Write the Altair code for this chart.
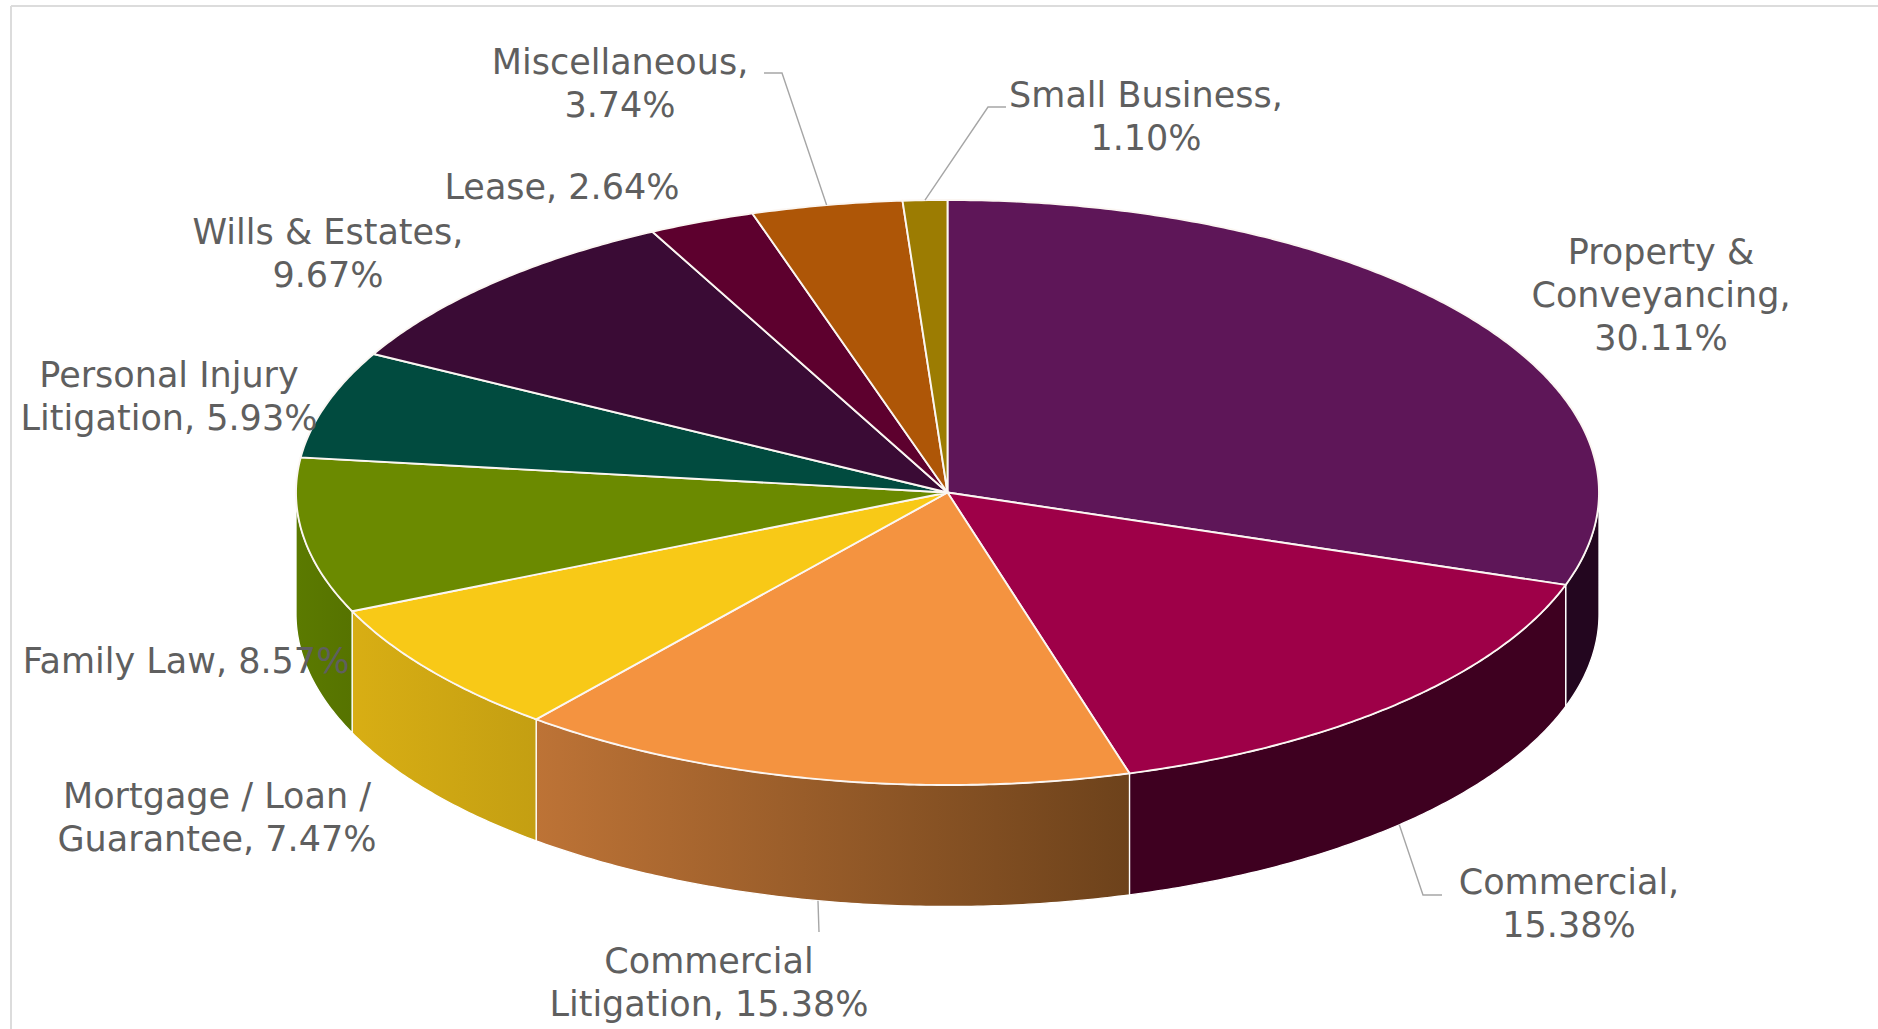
import math
import altair as alt

# Share of matters by practice area, clockwise from twelve o'clock
areas = ["Property & Conveyancing", "Commercial", "Commercial Litigation",
         "Mortgage / Loan / Guarantee", "Family Law", "Personal Injury Litigation",
         "Wills & Estates", "Lease", "Miscellaneous", "Small Business"]
shares = [30.11, 15.38, 15.38, 7.47, 8.57, 5.93, 9.67, 2.64, 3.74, 1.10]
top_colors = ["#5E1658", "#9E0048", "#F49340", "#F8C917", "#6B8A00",
              "#014B3F", "#3A0B35", "#5D002E", "#AE5607", "#9C7C02"]
wrapped_names = ["Property &\nConveyancing,\n", "Commercial,\n", "Commercial\nLitigation, ",
                 "Mortgage / Loan /\nGuarantee, ", "Family Law, ", "Personal Injury\nLitigation, ",
                 "Wills & Estates,\n", "Lease, ", "Miscellaneous,\n", "Small Business,\n"]
# Wall shading (left colour, right colour) for the slices on the near side
wall_shades = {
    0: ("#23061F", "#23061F"),
    1: ("#3E0020", "#3E0020"),
    2: ("#BD7336", "#6D421B"),
    3: ("#D8AE14", "#C49F12"),
    4: ("#5B7A00", "#567300"),
}

# Pie geometry and label placement, in page pixels
W, H = 1878, 1029
CX, CY, RX, RY, DEPTH = 947.5, 492.5, 651.5, 292.5, 121.5
label_x = [1661, 1569, 709, 217, 186, 169, 328, 562, 620, 1146]
first_line_y = [253, 883, 961.5, 796.5, 661.5, 375.5, 232.5, 187.5, 62.5, 96]
leader_elbows = {
    1: [(1423, 895), (1442, 895)],
    2: [(819, 932)],
    8: [(782, 73), (764, 73)],
    9: [(988, 107), (1006, 107)],
}

total = sum(shares)
edges = [0.0]
for s in shares:
    edges.append(edges[-1] + s / total * 360.0)


def rim(deg, drop=0.0):
    a = math.radians(deg)
    return [CX + RX * math.sin(a), CY - RY * math.cos(a) + drop]


def arc(a0, a1, drop=0.0):
    steps = max(2, int(abs(a1 - a0) * 2))
    return [rim(a0 + (a1 - a0) * i / steps, drop) for i in range(steps + 1)]


def feature(ring, **props):
    return {"type": "Feature", "properties": props,
            "geometry": {"type": "Polygon", "coordinates": [ring + [ring[0]]]}}


flat = alt.Projection(type="identity", scale=1, translate=[0, 0])
x_scale = alt.Scale(domain=[0, W], range=[0, W])
y_scale = alt.Scale(domain=[0, H], range=[0, H])

# Side walls: only the arc between 90 and 270 degrees faces the viewer
walls = []
for i, (left, right) in wall_shades.items():
    a0, a1 = edges[i], min(edges[i + 1], 270.0)
    a0 = max(a0, 90.0)
    ring = arc(a0, a1) + arc(a1, a0, DEPTH)
    paint = alt.Gradient(gradient="linear", x1=0, x2=1, y1=0, y2=0,
                         stops=[alt.GradientStop(offset=0, color=left),
                                alt.GradientStop(offset=1, color=right)])
    walls.append(
        alt.Chart(alt.Data(values=[feature(ring, area=areas[i])]))
        .mark_geoshape(fill=paint, stroke="white", strokeWidth=1.3)
        .project(**flat.to_dict())
    )

# Top face of the pie
top_features = [feature([[CX, CY]] + arc(edges[i], edges[i + 1]), area=areas[i], share=shares[i])
                for i in range(len(areas))]
top = (
    alt.Chart(alt.Data(values=top_features))
    .mark_geoshape(stroke="#FBF6F2", strokeWidth=1.9)
    .encode(color=alt.Color("properties.area:N", legend=None,
                            scale=alt.Scale(domain=areas, range=top_colors)))
    .project(**flat.to_dict())
)

# Leader lines start on the lower or upper rim at each slice's mid angle
leader_rows = []
for i, elbows in leader_elbows.items():
    mid = (edges[i] + edges[i + 1]) / 2
    start = rim(mid, DEPTH if 90 < mid < 270 else 0.0)
    for j, (px, py) in enumerate([tuple(start)] + elbows):
        leader_rows.append({"area": areas[i], "step": j, "px": px, "py": py})
leaders = (
    alt.Chart(alt.Data(values=leader_rows))
    .mark_line(color="#A6A6A6", strokeWidth=1.4)
    .encode(x=alt.X("px:Q", scale=x_scale, axis=None),
            y=alt.Y("py:Q", scale=y_scale, axis=None),
            detail="area:N", order="step:Q")
)

# A multi-line text is anchored at the middle of its first line
label_rows = [{"text": f"{wrapped_names[i]}{shares[i]:.2f}%", "px": label_x[i], "py": first_line_y[i]}
              for i in range(len(areas))]
labels = (
    alt.Chart(alt.Data(values=label_rows))
    .mark_text(font="DejaVu Sans", fontSize=35, color="#5F5F5F", align="center",
               baseline="middle", lineBreak="\n", lineHeight=43)
    .encode(x=alt.X("px:Q", scale=x_scale, axis=None),
            y=alt.Y("py:Q", scale=y_scale, axis=None),
            text="text:N")
)

# Thin frame along the top and left of the chart area
frame_top = alt.Chart(alt.Data(values=[{"k": 0}])).mark_rule(color="#DCDCDC", strokeWidth=2).encode(
    x=alt.value(11), x2=alt.value(W), y=alt.value(6))
frame_left = alt.Chart(alt.Data(values=[{"k": 0}])).mark_rule(color="#DCDCDC", strokeWidth=2).encode(
    x=alt.value(11), y=alt.value(6), y2=alt.value(H))

chart = (
    alt.layer(frame_top, frame_left, *walls, top, leaders, labels)
    .resolve_scale(x="shared", y="shared")
    .properties(width=W, height=H, padding=0, autosize=alt.AutoSizeParams(type="none"),
                background="white")
    .configure_view(stroke=None)
)
chart.save("out.html", embed_options={"renderer": "svg", "actions": False})
